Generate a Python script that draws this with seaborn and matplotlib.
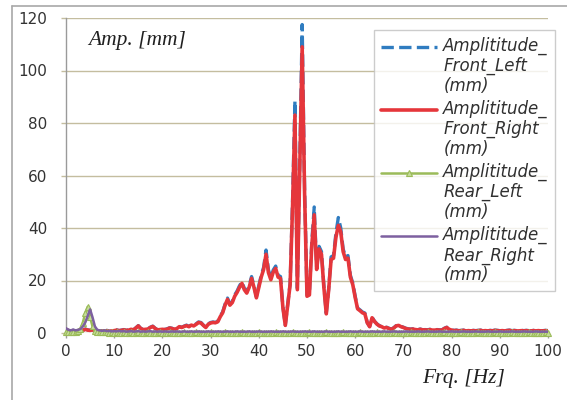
import numpy as np
import pandas as pd
import matplotlib
matplotlib.use("Agg")
import matplotlib.pyplot as plt
import seaborn as sns
from matplotlib.lines import Line2D
from matplotlib.legend_handler import HandlerLine2D

sns.set_theme(style="white")
plt.rcParams['font.family'] = ['DejaVu Sans']

freq = np.arange(0, 100.5, 0.5)

front_left = [
    1.5, 1.0, 0.8, 1.0, 0.7, 1.0, 1.2, 1.0, 1.5, 1.2,
    1.0, 1.3, 0.8, 1.0, 0.6, 0.8, 0.7, 1.0, 0.6, 0.8,
    1.0, 1.2, 0.9, 1.1, 1.3, 1.0, 1.2, 1.5, 1.2, 2.0,
    2.8, 1.8, 1.3, 1.5, 1.6, 2.2, 2.6, 1.8, 1.2, 1.4,
    1.5, 1.3, 1.6, 2.0, 1.8, 1.4, 1.8, 2.5, 2.2, 2.6,
    3.0, 2.5, 3.2, 2.8, 3.5, 4.2, 4.0, 3.0, 2.2, 3.5,
    4.0, 4.2, 4.0, 4.5, 6.5, 8.0, 11.0, 13.3, 11.0, 12.0,
    14.5, 16.0, 18.0, 19.5, 17.0, 15.7, 18.0, 21.5, 18.0, 13.8,
    18.0, 22.0, 25.0, 31.6, 24.0, 21.0, 24.0, 25.5, 22.0, 21.5,
    10.0, 3.0, 11.0, 19.0, 50.0, 88.5, 17.0, 65.0, 117.5, 55.0,
    14.5, 15.0, 35.0, 48.0, 25.0, 33.0, 31.0, 18.0, 7.5, 17.0,
    29.0, 29.5, 38.0, 44.0, 40.0, 32.0, 29.0, 29.5, 22.0, 19.0,
    14.0, 9.5, 8.8, 8.0, 7.6, 4.0, 2.5, 6.0, 4.5, 3.5,
    2.8, 2.5, 2.0, 2.2, 1.8, 1.5, 2.0, 2.8, 3.0, 2.5,
    2.2, 1.8, 1.6, 1.5, 1.6, 1.4, 1.3, 1.5, 1.2, 1.3,
    1.2, 1.4, 1.1, 1.2, 1.3, 1.2, 1.2, 1.8, 2.2, 1.5,
    1.2, 1.0, 1.1, 0.9, 1.0, 1.1, 0.9, 1.0, 0.8, 1.0,
    0.9, 1.0, 1.1, 0.9, 1.0, 0.8, 1.0, 0.9, 1.1, 1.0,
    0.9, 1.0, 0.8, 1.0, 1.1, 0.9, 1.0, 0.9, 0.8, 1.0,
    0.9, 1.0, 0.9, 0.8, 1.0, 0.9, 1.0, 0.8, 0.9, 1.0,
    0.9,
]

front_right = [
    1.4, 0.9, 0.8, 0.9, 0.7, 0.9, 1.1, 1.0, 1.4, 1.1,
    1.0, 1.2, 0.8, 0.9, 0.6, 0.8, 0.7, 0.9, 0.6, 0.8,
    0.9, 1.1, 0.9, 1.0, 1.2, 1.0, 1.1, 1.4, 1.2, 1.9,
    2.7, 1.7, 1.3, 1.4, 1.5, 2.1, 2.5, 1.7, 1.2, 1.3,
    1.4, 1.3, 1.5, 1.9, 1.7, 1.4, 1.7, 2.4, 2.1, 2.5,
    2.8, 2.4, 3.0, 2.7, 3.3, 4.0, 3.8, 2.9, 2.1, 3.3,
    3.8, 4.0, 3.9, 4.3, 6.2, 7.7, 10.6, 12.8, 10.6, 11.6,
    14.0, 15.5, 17.4, 18.9, 16.5, 15.2, 17.4, 20.8, 17.4, 13.4,
    17.4, 21.3, 24.2, 30.0, 23.0, 20.3, 23.2, 24.6, 21.3, 20.8,
    9.7, 2.9, 10.6, 18.4, 48.0, 83.0, 16.5, 62.0, 109.0, 53.0,
    14.0, 14.5, 33.5, 45.0, 24.2, 32.0, 30.0, 17.4, 7.3, 16.5,
    28.0, 28.5, 36.5, 41.0, 38.5, 31.0, 28.0, 28.5, 21.3, 18.4,
    13.5, 9.2, 8.5, 7.7, 7.3, 3.9, 2.4, 5.8, 4.4, 3.4,
    2.7, 2.4, 1.9, 2.1, 1.7, 1.4, 1.9, 2.7, 2.9, 2.4,
    2.1, 1.7, 1.5, 1.4, 1.5, 1.3, 1.2, 1.4, 1.2, 1.2,
    1.1, 1.3, 1.1, 1.1, 1.2, 1.1, 1.1, 1.7, 2.1, 1.4,
    1.1, 0.9, 1.0, 0.8, 0.9, 1.0, 0.8, 0.9, 0.8, 0.9,
    0.8, 0.9, 1.0, 0.8, 0.9, 0.8, 0.9, 0.8, 1.0, 0.9,
    0.8, 0.9, 0.8, 0.9, 1.0, 0.8, 0.9, 0.8, 0.8, 0.9,
    0.8, 0.9, 0.8, 0.8, 0.9, 0.8, 0.9, 0.8, 0.8, 0.9,
    0.8,
]

rear_left = [
    0.3, 0.2, 0.2, 0.3, 0.4, 0.6, 1.5, 4.0, 7.5, 10.0,
    6.0, 2.5, 0.8, 0.4, 0.3, 0.2, 0.2, 0.2, 0.1, 0.2,
    0.1, 0.2, 0.1, 0.1, 0.2, 0.1, 0.1, 0.2, 0.1, 0.1,
    0.2, 0.1, 0.1, 0.1, 0.2, 0.1, 0.1, 0.1, 0.1, 0.2,
    0.1, 0.1, 0.1, 0.2, 0.1, 0.1, 0.1, 0.1, 0.1, 0.2,
    0.1, 0.1, 0.1, 0.1, 0.2, 0.1, 0.1, 0.1, 0.1, 0.1,
    0.2, 0.1, 0.1, 0.1, 0.1, 0.1, 0.2, 0.1, 0.1, 0.1,
    0.1, 0.1, 0.1, 0.2, 0.1, 0.1, 0.1, 0.1, 0.1, 0.1,
    0.2, 0.1, 0.1, 0.1, 0.1, 0.1, 0.1, 0.2, 0.1, 0.1,
    0.1, 0.1, 0.1, 0.1, 0.2, 0.1, 0.1, 0.1, 0.1, 0.1,
    0.1, 0.2, 0.1, 0.1, 0.1, 0.1, 0.1, 0.1, 0.2, 0.1,
    0.1, 0.1, 0.1, 0.1, 0.1, 0.2, 0.1, 0.1, 0.1, 0.1,
    0.1, 0.1, 0.2, 0.1, 0.1, 0.1, 0.1, 0.1, 0.1, 0.2,
    0.1, 0.1, 0.1, 0.1, 0.1, 0.1, 0.2, 0.1, 0.1, 0.1,
    0.1, 0.1, 0.1, 0.2, 0.1, 0.1, 0.1, 0.1, 0.1, 0.1,
    0.2, 0.1, 0.1, 0.1, 0.1, 0.1, 0.1, 0.2, 0.1, 0.1,
    0.1, 0.1, 0.1, 0.1, 0.2, 0.1, 0.1, 0.1, 0.1, 0.1,
    0.1, 0.2, 0.1, 0.1, 0.1, 0.1, 0.1, 0.1, 0.2, 0.1,
    0.1, 0.1, 0.1, 0.1, 0.1, 0.2, 0.1, 0.1, 0.1, 0.1,
    0.1, 0.1, 0.2, 0.1, 0.1, 0.1, 0.1, 0.1, 0.1, 0.2,
    0.1,
]

rear_right = [
    1.8, 1.2, 1.0, 1.3, 1.0, 1.2, 1.5, 2.5, 4.0, 6.5,
    9.0, 6.0, 2.5, 1.2, 1.0, 0.8, 1.0, 0.7, 0.8, 0.6,
    0.7, 0.6, 0.8, 0.6, 0.7, 0.5, 0.6, 0.7, 0.5, 0.6,
    0.7, 0.5, 0.6, 0.5, 0.6, 0.7, 0.5, 0.6, 0.5, 0.6,
    0.5, 0.6, 0.5, 0.5, 0.6, 0.5, 0.6, 0.5, 0.5, 0.6,
    0.5, 0.5, 0.6, 0.5, 0.5, 0.6, 0.5, 0.5, 0.5, 0.6,
    0.5, 0.5, 0.5, 0.6, 0.5, 0.5, 0.5, 0.6, 0.5, 0.5,
    0.5, 0.6, 0.5, 0.5, 0.5, 0.5, 0.6, 0.5, 0.5, 0.5,
    0.6, 0.5, 0.5, 0.5, 0.5, 0.6, 0.5, 0.5, 0.5, 0.5,
    0.6, 0.5, 0.5, 0.5, 0.6, 0.5, 0.5, 0.5, 0.5, 0.6,
    0.5, 0.5, 0.5, 0.6, 0.5, 0.5, 0.5, 0.5, 0.6, 0.5,
    0.5, 0.5, 0.5, 0.6, 0.5, 0.5, 0.5, 0.5, 0.6, 0.5,
    0.5, 0.5, 0.6, 0.5, 0.5, 0.5, 0.5, 0.6, 0.5, 0.5,
    0.5, 0.5, 0.6, 0.5, 0.5, 0.5, 0.6, 0.5, 0.5, 0.5,
    0.5, 0.6, 0.5, 0.5, 0.5, 0.5, 0.6, 0.5, 0.5, 0.5,
    0.6, 0.5, 0.5, 0.5, 0.5, 0.6, 0.5, 0.5, 0.5, 0.5,
    0.6, 0.5, 0.5, 0.5, 0.5, 0.6, 0.5, 0.5, 0.5, 0.5,
    0.6, 0.5, 0.5, 0.5, 0.5, 0.6, 0.5, 0.5, 0.5, 0.5,
    0.6, 0.5, 0.5, 0.5, 0.5, 0.6, 0.5, 0.5, 0.5, 0.5,
    0.6, 0.5, 0.5, 0.5, 0.5, 0.6, 0.5, 0.5, 0.5, 0.5,
    0.5,
]

labels = ["Amplititude_\nFront_Left\n(mm)",
          "Amplititude_\nFront_Right\n(mm)",
          "Amplititude_\nRear_Left\n(mm)",
          "Amplititude_\nRear_Right\n(mm)"]

y_ticks = [0, 20, 40, 60, 80, 100, 120]
x_ticks = [0, 10, 20, 30, 40, 50, 60, 70, 80, 90, 100]

W, H = 567, 400
fig = plt.figure(figsize=(W / 100, H / 100), dpi=100)
fig.patch.set_facecolor("white")
ax = fig.add_axes([66 / W, 1 - 333 / H, (548 - 66) / W, (333 - 18) / H])
ax.set_facecolor("white")

c_blue = "#2f7cc0"
c_red = "#e5363b"
c_green = "#9bbb59"
c_purple = "#7d60a0"

sns.lineplot(x=freq, y=front_left, ax=ax, color=c_blue, linewidth=2.4,
             linestyle="--", label=labels[0], zorder=3)
sns.lineplot(x=freq, y=front_right, ax=ax, color=c_red, linewidth=2.6,
             label=labels[1], zorder=4)
sns.lineplot(x=freq, y=rear_left, ax=ax, color=c_green, linewidth=1.8,
             marker="^", markersize=4, markerfacecolor="#c5dc9a",
             markeredgecolor=c_green, markeredgewidth=0.8,
             label=labels[2], zorder=5, clip_on=False)
sns.lineplot(x=freq, y=rear_right, ax=ax, color=c_purple, linewidth=1.8,
             label=labels[3], zorder=6)

ax.set_xlim(0, 100)
ax.set_ylim(0, 120)
ax.set_xticks(x_ticks)
ax.set_yticks(y_ticks)
ax.set_xticklabels([str(v) for v in x_ticks])
ax.set_yticklabels([str(v) for v in y_ticks])
ax.set_xlabel("")
ax.set_ylabel("")

ax.grid(axis="y", color="#c4bd9f", linewidth=1.0)
ax.grid(axis="x", visible=False)
ax.set_axisbelow(True)
for s in ["top", "right", "bottom"]:
    ax.spines[s].set_visible(False)
ax.spines["left"].set_color("#9a9a9a")
ax.spines["left"].set_linewidth(1.0)

ax.tick_params(axis="y", which="both", left=True, length=3.6, width=1,
               color="#c4bd9f", pad=10, labelsize=11, labelcolor="#333333")
ax.tick_params(axis="x", which="both", bottom=True, length=3.6, width=1,
               color="#9a9a9a", pad=4, labelsize=11, labelcolor="#333333")


class FirstLineHandler(HandlerLine2D):
    def __init__(self, dy, **kw):
        super().__init__(**kw)
        self.dy = dy

    def create_artists(self, legend, orig_handle, xdescent, ydescent,
                       width, height, fontsize, trans):
        arts = super().create_artists(legend, orig_handle, xdescent, ydescent,
                                      width, height, fontsize, trans)
        for a in arts:
            a.set_ydata(np.asarray(a.get_ydata()) + self.dy)
        return arts


leg_fs = 12
leg = ax.legend(loc="upper left", bbox_to_anchor=(374 / W, 1 - 30 / H),
                bbox_transform=fig.transFigure, borderaxespad=0,
                frameon=True, fancybox=False, edgecolor="#c0c0c0",
                handlelength=3.4, handletextpad=0.36,
                labelspacing=0.3, borderpad=0.4,
                prop={"style": "italic", "size": leg_fs},
                handler_map={Line2D: FirstLineHandler(1.2 * leg_fs)})
leg.get_frame().set_linewidth(1.0)
for t in leg.get_texts():
    t.set_color("#303030")
    t.set_linespacing(1.13)

fig.text(88 / W, 1 - 40 / H, "Amp. [mm]", family="Liberation Serif",
         style="italic", fontsize=15.5, color="#202020", va="center", ha="left")
fig.text(505 / W, 1 - 378 / H, "Frq. [Hz]", family="Liberation Serif",
         style="italic", fontsize=15.5, color="#202020", va="center", ha="right")

fig.add_artist(Line2D([12 / W, 12 / W], [0, 1 - 6 / H], transform=fig.transFigure,
                      color="#a8a8a8", linewidth=1.2))
fig.add_artist(Line2D([12 / W, 1], [1 - 6 / H, 1 - 6 / H], transform=fig.transFigure,
                      color="#a8a8a8", linewidth=1.2))

fig.savefig("out.png", dpi=100, facecolor="white")
